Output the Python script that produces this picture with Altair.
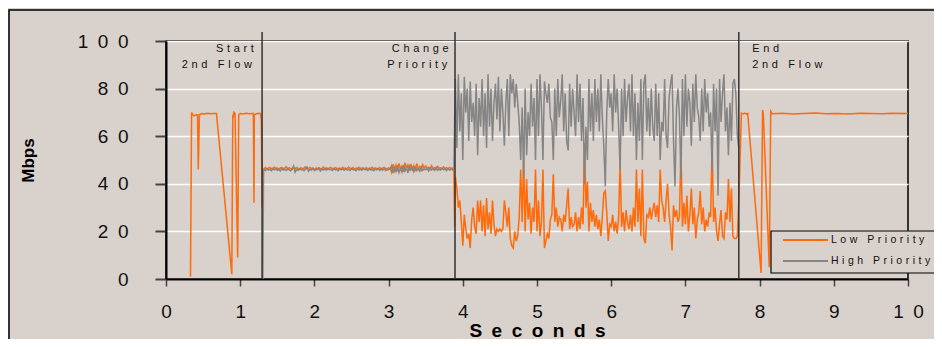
import altair as alt
import pandas as pd

BG = "#D9D1CB"
ORANGE = "#FF6A0A"
GRAY = "#858585"
SP = "\u2002"
SP_SMALL = "\u2004"

SERIES = ["Low Priority", "High Priority"]
COLORS = [ORANGE, GRAY]

X_TICKS = [0, 1, 2, 3, 4, 5, 6, 7, 8, 9, 10]
Y_TICKS = [0, 20, 40, 60, 80, 100]

# ---- Low priority flow (orange) ----
ORANGE_A_T = [0.33, 0.345, 0.36, 0.38, 0.40, 0.425, 0.435, 0.44, 0.45, 0.48,
              0.52, 0.56, 0.60, 0.64, 0.68, 0.887, 0.90, 0.905, 0.915, 0.93,
              0.966, 0.98, 1.00, 1.04, 1.08, 1.12, 1.16, 1.177, 1.186, 1.19,
              1.22, 1.25, 1.272, 1.285, 1.295, 1.31]
ORANGE_A_V = [1, 70, 69, 68.5, 69, 69, 46, 53, 69, 69.5,
              69.3, 69.6, 69.4, 69.5, 69.5, 2, 69, 68, 70, 69.5,
              9, 69, 69.5, 69.3, 69.6, 69.4, 69.5, 69.5, 32, 69,
              69.4, 69.6, 69.5, 67, 30, 46]

# shared period, samples every 0.02 s from 1.32 s
SHARED_START = 1.32
STEP = 0.02
ORANGE_B_V = [46.3, 46.8, 46.1, 46.6, 46.9, 46.2, 46.5, 47.0, 46.4, 46.7,
              46.1, 46.6, 46.9, 46.3, 46.5, 47.2, 46.2, 46.8, 46.4, 46.0,
              46.7, 46.3, 46.9, 46.5, 46.1, 46.8, 46.4, 46.6, 47.1, 46.2,
              46.5, 46.9, 46.3, 46.7, 46.0, 46.6, 46.4, 46.8, 46.2, 46.5,
              47.0, 46.3, 46.7, 46.1, 46.6, 46.9, 46.4, 46.2, 46.8, 46.5,
              46.3, 46.7, 46.1, 46.9, 46.4, 46.6, 46.2, 47.0, 46.5, 46.3,
              46.8, 46.1, 46.6, 46.4, 46.9, 46.2, 46.7, 46.5, 46.3, 46.8,
              46.0, 46.6, 46.4, 46.9, 46.2, 46.7, 46.5, 46.1, 46.8, 46.3,
              46.6, 46.9, 46.4, 46.2, 46.7, 46.5, 44.8, 48.2, 45.6, 47.8,
              45.2, 48.6, 46.1, 47.4, 45.0, 48.9, 46.4, 47.9, 45.5, 48.3,
              46.0, 47.6, 45.3, 48.5, 46.2, 47.2, 45.8, 48.0, 46.5, 47.5,
              46.3, 46.9, 46.1, 47.6, 46.4, 46.8, 46.2, 47.3, 46.5, 46.7,
              46.3, 47.1, 46.4, 46.8, 46.2, 46.9, 46.5, 46.6]
ORANGE_BC_T = [3.88, 3.89]
ORANGE_BC_V = [45, 22]

# priority changed, samples every 0.02 s from 3.90 s
PRIO_START = 3.90
ORANGE_C_V = [43, 38, 30, 33, 24, 14, 27, 21, 17, 19,
              13, 25, 30, 22, 19, 33, 24, 33, 20, 31,
              18, 34, 21, 28, 19, 33, 23, 18, 21, 20,
              21, 20, 21, 33, 28, 22, 30, 17, 14, 13,
              20, 16, 18, 26, 46, 24, 51, 20, 42, 25,
              32, 19, 30, 24, 46, 20, 33, 18, 24, 46,
              13, 16, 19, 17, 25, 27, 44, 24, 30, 22,
              26, 25, 20, 27, 24, 31, 38, 21, 26, 22,
              23, 28, 20, 26, 21, 30, 23, 57, 30, 41,
              20, 32, 24, 29, 22, 27, 21, 25, 18, 26,
              36, 37, 28, 16, 23, 22, 27, 20, 24, 19,
              26, 49, 22, 28, 20, 29, 24, 21, 27, 20,
              30, 22, 46, 24, 38, 18, 46, 17, 15, 27,
              26, 30, 25, 29, 32, 26, 31, 24, 46, 33,
              30, 24, 33, 40, 27, 22, 12, 31, 26, 29,
              24, 26, 55, 22, 32, 23, 35, 20, 27, 38,
              23, 30, 17, 25, 28, 37, 23, 30, 20, 25,
              22, 28, 26, 57, 24, 30, 20, 16, 23, 29,
              18, 17, 28, 25, 42, 24, 38, 18, 17, 17,
              18, 33]

ORANGE_D_T = [7.755, 7.78, 7.80, 7.82, 7.84, 8.02, 8.04, 8.05, 8.13, 8.15,
              8.17, 8.3, 8.45, 8.6, 8.75, 8.9, 9.05, 9.2, 9.35, 9.5,
              9.65, 9.8, 9.95, 10.0]
ORANGE_D_V = [69.7, 69.4, 69.7, 69.3, 69.6, 2.5, 71, 69.5, 5, 70.5,
              69.4, 69.6, 69.3, 69.5, 69.7, 69.4, 69.5, 69.3, 69.6, 69.5,
              69.4, 69.6, 69.5, 69.5]

# ---- High priority flow (gray) ----
GRAY_A_T = [1.305, 1.315]
GRAY_A_V = [0, 46]
GRAY_B_V = [46.0, 45.6, 46.3, 45.8, 46.1, 45.5, 46.2, 45.9, 46.4, 45.7,
            46.0, 45.4, 46.5, 45.8, 46.1, 45.6, 46.3, 45.9, 45.5, 46.2,
            47.5, 44.9, 46.1, 45.7, 46.4, 45.8, 46.0, 45.5, 46.3, 47.0,
            45.3, 46.1, 45.8, 46.4, 45.6, 46.0, 45.9, 46.6, 45.4, 46.2,
            45.8, 46.3, 45.7, 46.5, 45.9, 46.1, 45.6, 46.4, 45.8, 46.0,
            45.5, 46.3, 45.9, 46.2, 45.7, 46.4, 45.8, 46.1, 45.6, 46.3,
            45.9, 46.0, 45.5, 46.4, 45.8, 46.2, 45.7, 46.5, 45.9, 46.1,
            45.6, 46.3, 45.8, 46.0, 45.5, 46.2, 45.9, 46.4, 45.7, 46.1,
            45.8, 46.3, 45.6, 46.0, 45.9, 46.2, 47.6, 44.5, 46.8, 45.2,
            47.2, 44.8, 46.5, 45.0, 47.8, 45.4, 46.9, 44.6, 47.4, 45.8,
            46.9, 45.1, 47.0, 45.6, 46.4, 45.3, 47.1, 45.7, 46.2, 45.9,
            46.6, 45.4, 46.8, 45.8, 46.3, 45.6, 46.9, 45.7, 46.2, 45.8,
            46.5, 45.9, 46.3, 45.6, 46.4, 45.8, 46.1, 46.0]
GRAY_BC_T = [3.88, 3.89]
GRAY_BC_V = [46, 67]
GRAY_C_V = [84, 55, 86, 62, 78, 50, 85, 70, 80, 58,
            83, 66, 74, 60, 82, 52, 76, 64, 84, 60,
            78, 55, 86, 64, 80, 58, 74, 82, 67, 85,
            62, 80, 70, 56, 74, 84, 60, 86, 78, 84,
            72, 82, 74, 66, 50, 72, 43, 80, 52, 70,
            60, 82, 64, 76, 50, 84, 60, 86, 72, 50,
            83, 78, 74, 82, 68, 66, 50, 80, 60, 84,
            68, 75, 86, 62, 78, 58, 54, 82, 64, 80,
            70, 60, 86, 66, 82, 58, 76, 40, 64, 50,
            84, 62, 78, 58, 84, 66, 80, 62, 86, 68,
            56, 39, 70, 84, 72, 78, 62, 86, 70, 80,
            64, 46, 80, 60, 84, 66, 76, 82, 62, 86,
            60, 78, 50, 74, 58, 84, 50, 82, 86, 62,
            76, 60, 80, 64, 58, 82, 60, 78, 50, 66,
            62, 84, 60, 55, 76, 82, 86, 58, 39, 72,
            80, 68, 42, 84, 60, 86, 64, 80, 74, 56,
            82, 66, 86, 72, 68, 58, 80, 62, 84, 70,
            78, 64, 70, 45, 82, 62, 80, 35, 84, 66,
            78, 86, 62, 72, 52, 74, 58, 82, 84, 78,
            60, 55]

# ---- events / annotations ----
EVENT_T = [1.295, 3.895, 7.72]
ANN_RIGHT_LABEL = ["Start", "2nd Flow", "Change", "Priority"]
ANN_RIGHT_T = [1.185, 1.16, 3.81, 3.79]
ANN_RIGHT_V = [95.5, 88.8, 95.5, 88.8]
ANN_LEFT_LABEL = ["End", "2nd Flow"]
ANN_LEFT_T = [7.90, 7.90]
ANN_LEFT_V = [95.5, 88.8]


def sampled(start, values):
    return [round(start + STEP * i, 3) for i in range(len(values))]


def frame(series, ts, vs):
    return pd.DataFrame({"t": ts, "v": vs, "series": series})


low = pd.concat([
    frame(SERIES[0], ORANGE_A_T, ORANGE_A_V),
    frame(SERIES[0], sampled(SHARED_START, ORANGE_B_V), ORANGE_B_V),
    frame(SERIES[0], ORANGE_BC_T, ORANGE_BC_V),
    frame(SERIES[0], sampled(PRIO_START, ORANGE_C_V), ORANGE_C_V),
    frame(SERIES[0], ORANGE_D_T, ORANGE_D_V),
])
high = pd.concat([
    frame(SERIES[1], GRAY_A_T, GRAY_A_V),
    frame(SERIES[1], sampled(SHARED_START, GRAY_B_V), GRAY_B_V),
    frame(SERIES[1], GRAY_BC_T, GRAY_BC_V),
    frame(SERIES[1], sampled(PRIO_START, GRAY_C_V), GRAY_C_V),
])

spaced = "join(split(datum.label, ''), '" + SP + "')"
spaced_small = "join(split(datum.label, ''), '" + SP_SMALL + "')"

x_enc = alt.X("t:Q", scale=alt.Scale(domain=[0, 10], nice=False, zero=False),
              axis=alt.Axis(values=X_TICKS,
                            title=SP.join("Seconds"),
                            grid=False,
                            labelExpr=spaced, format="d",
                            tickSize=7, tickWidth=1.5, tickColor="#444",
                            domainColor="black", domainWidth=2,
                            labelFont="Liberation Sans", labelFontSize=19,
                            labelColor="#111", labelPadding=16, labelFlush=False,
                            titleFont="Liberation Sans", titleFontSize=19,
                            titleFontWeight="bold", titleColor="#000",
                            titlePadding=0, titleBaseline="top", titleY=42))
y_enc = alt.Y("v:Q", scale=alt.Scale(domain=[0, 100], nice=False),
              axis=alt.Axis(values=Y_TICKS, title="Mbps", grid=True,
                            gridColor="#FFFFFF", gridWidth=1.5,
                            labelExpr=spaced, format="d",
                            tickSize=11, tickWidth=2, tickColor="#444",
                            domainColor="black", domainWidth=2,
                            labelFont="Liberation Sans", labelFontSize=19,
                            labelColor="#111", labelPadding=27, labelFlush=False,
                            titleFont="Liberation Sans", titleFontSize=17,
                            titleFontWeight="bold", titleColor="#000",
                            titleAngle=-90, titleBaseline="middle",
                            titleX=-138))

color_enc = alt.Color("series:N", scale=alt.Scale(domain=SERIES, range=COLORS),
                      legend=None)

border = alt.Chart(pd.DataFrame({"k": [0]})).mark_rect(
    fill=None, stroke="black", strokeWidth=1.5
).encode(x=alt.value(-157), x2=alt.value(1000), y=alt.value(-31), y2=alt.value(500))

low_line = alt.Chart(low).mark_line(strokeWidth=1.5).encode(
    x=x_enc, y=y_enc, color=color_enc, order="t:Q")
high_line = alt.Chart(high).mark_line(strokeWidth=1.5).encode(
    x=x_enc, y=y_enc, color=color_enc, order="t:Q")

events = alt.Chart(pd.DataFrame({"t": EVENT_T})).mark_rule(
    color="#333333", strokeWidth=1.5
).encode(x="t:Q", y=alt.value(-9), y2=alt.value(238))

ann_r = alt.Chart(pd.DataFrame({"t": ANN_RIGHT_T, "v": ANN_RIGHT_V,
                                "label": ANN_RIGHT_LABEL})).transform_calculate(
    txt=spaced_small).mark_text(align="right", baseline="alphabetic",
                                font="Liberation Sans", fontSize=11, color="#111"
                                ).encode(x="t:Q", y="v:Q", text="txt:N")
ann_l = alt.Chart(pd.DataFrame({"t": ANN_LEFT_T, "v": ANN_LEFT_V,
                                "label": ANN_LEFT_LABEL})).transform_calculate(
    txt=spaced_small).mark_text(align="left", baseline="alphabetic",
                                font="Liberation Sans", fontSize=11, color="#111"
                                ).encode(x="t:Q", y="v:Q", text="txt:N")

# ---- legend box (drawn as a layer so it can be placed like the original) ----
legend_df = pd.DataFrame({"label": SERIES})
legend_box = alt.Chart(pd.DataFrame({"k": [0]})).mark_rect(
    fill=BG, stroke="black", strokeWidth=1.2
).encode(x=alt.value(605), x2=alt.value(800), y=alt.value(190), y2=alt.value(232))

legend_layers = []
for i, (name, col) in enumerate(zip(SERIES, COLORS)):
    row_y = 199 + 21 * i
    sub = alt.Chart(legend_df).transform_filter(
        alt.datum.label == name).transform_calculate(txt=spaced_small)
    legend_layers.append(sub.mark_rule(color=col, strokeWidth=2).encode(
        x=alt.value(617), x2=alt.value(662), y=alt.value(row_y)))
    legend_layers.append(sub.mark_text(
        align="left", baseline="middle", font="Liberation Sans", fontSize=10.5,
        color="#111").encode(x=alt.value(665), y=alt.value(row_y), text="txt:N"))

chart = alt.layer(border, low_line, high_line, events, ann_r, ann_l,
                  legend_box, *legend_layers).properties(
    width=742, height=238,
    padding={"left": 158, "top": 33, "right": 26, "bottom": 60},
    autosize=alt.AutoSizeParams(type="none"),
    background=BG,
).configure_view(stroke="black", strokeWidth=1.5, fill=None)

chart.save("out.html", embed_options={"renderer": "svg", "actions": False})
